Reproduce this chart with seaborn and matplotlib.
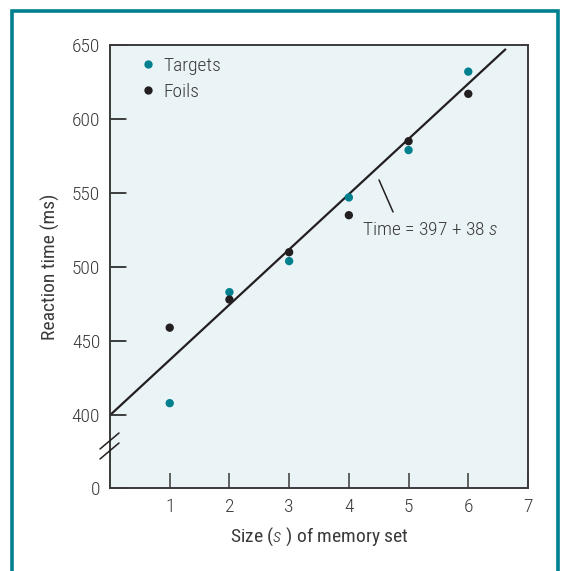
import numpy as np
import pandas as pd
import matplotlib
matplotlib.use("Agg")
import matplotlib.pyplot as plt
import matplotlib.patches as mpatches
from matplotlib.lines import Line2D
import seaborn as sns

# ---- data ----
set_size = [1, 2, 3, 4, 5, 6]
targets_rt = [408, 483, 504, 547, 579, 632]
foils_rt = [459, 478, 510, 535, 585, 617]
series_names = ["Targets", "Foils"]
fit_x = [0, 6.62]
fit_y = [399, 647]
x_ticks = [1, 2, 3, 4, 5, 6, 7]
y_ticks = [0, 400, 450, 500, 550, 600, 650]

TEAL = "#00808F"
DARK = "#231F20"
TXT = "#3a3a3a"
BG = "#EAF3F6"

sns.set_style("ticks")
plt.rcParams["font.family"] = ["Roboto Condensed", "Liberation Sans Narrow", "Lato", "DejaVu Sans"]
plt.rcParams["font.weight"] = 300
plt.rcParams["mathtext.fontset"] = "custom"
plt.rcParams["mathtext.it"] = "Roboto Condensed:italic:light"
plt.rcParams["mathtext.rm"] = "Roboto Condensed:light"

df = pd.DataFrame({
    "size": set_size * 2,
    "rt": targets_rt + foils_rt,
    "kind": [series_names[0]] * len(set_size) + [series_names[1]] * len(set_size),
})
fit = pd.DataFrame({"size": fit_x, "rt": fit_y})

fig = plt.figure(figsize=(5.64, 5.71), dpi=100)
ax = fig.add_axes([110 / 564, 1 - 488 / 571, 418 / 564, 443 / 571])
ax.set_facecolor(BG)

# broken y-scale: 0 -> 400 compressed
Z0 = 400 - 73 / 74 * 50


def fwd(v):
    v = np.asarray(v, dtype=float)
    return np.where(v >= 400, v, Z0 + v * (400 - Z0) / 400)


def inv(u):
    u = np.asarray(u, dtype=float)
    return np.where(u >= 400, u, (u - Z0) * 400 / (400 - Z0))


ax.set_yscale("function", functions=(fwd, inv))

sns.lineplot(data=fit, x="size", y="rt", ax=ax, color=DARK, lw=1.6, zorder=2)
sns.scatterplot(data=df, x="size", y="rt", hue="kind",
                palette={series_names[0]: TEAL, series_names[1]: DARK},
                s=36, linewidth=0, ax=ax, zorder=3, legend=False)

ax.set_xlim(0, 7)
ax.set_ylim(0, 650)
ax.set_xticks(x_ticks)
ax.set_yticks(y_ticks)
ax.set_xticklabels([str(t) for t in x_ticks])
ax.set_yticklabels([str(t) for t in y_ticks])
ax.minorticks_off()
ax.tick_params(axis="both", which="major", direction="in", length=11, width=1.1,
               color="#3a3a3a", labelsize=14, labelcolor=TXT,
               bottom=True, left=True, top=False, right=False, pad=7)
# inward y tick marks drawn explicitly at the tick values
for yv in y_ticks:
    ax.axhline(yv, xmin=0, xmax=16 / 418, color="#3a3a3a", lw=1.2,
               zorder=6, clip_on=False)
for sp in ax.spines.values():
    sp.set_color("#3a3a3a")
    sp.set_linewidth(1.4)
    sp.set_visible(True)

ax.set_xlabel("Size ($\\it{s}$ ) of memory set", fontsize=14, color=TXT)
ax.set_ylabel("Reaction time (ms)", fontsize=14, color=TXT)
ax.xaxis.set_label_coords(0.5, -0.085)
ax.yaxis.set_label_coords(-0.12, 0.5)

# legend
handles = [Line2D([], [], ls="", marker="o", ms=6, mec="none", mfc=TEAL),
           Line2D([], [], ls="", marker="o", ms=6, mec="none", mfc=DARK)]
leg = ax.legend(handles, series_names, loc="upper left", bbox_to_anchor=(0.025, 1.012),
                frameon=False, fontsize=14, handletextpad=0.3, labelspacing=0.4,
                handlelength=1.0)
for t in leg.get_texts():
    t.set_color(TXT)

# equation annotation
ax.plot([4.505, 4.74], [558.8, 537.2], color=DARK, lw=1.1)
ax.text(4.22, 525, "Time = 397 + 38 $\\it{s}$", fontsize=14, color=TXT,
        ha="left", va="center")

# axis break marks
for yb in (441, 451):
    y0 = 1 - yb / 571
    fig.add_artist(Line2D([100 / 564, 119 / 564], [y0 - 8 / 571, y0 + 8 / 571],
                          color=DARK, lw=1.1))

# outer teal frame (open at bottom)
fig.add_artist(mpatches.Rectangle((12 / 564, -0.05), (558 - 12) / 564,
                                  1 - 10.5 / 571 + 0.05, fill=False,
                                  edgecolor=TEAL, lw=2.6, clip_on=False))

fig.savefig("out.png", dpi=100)
